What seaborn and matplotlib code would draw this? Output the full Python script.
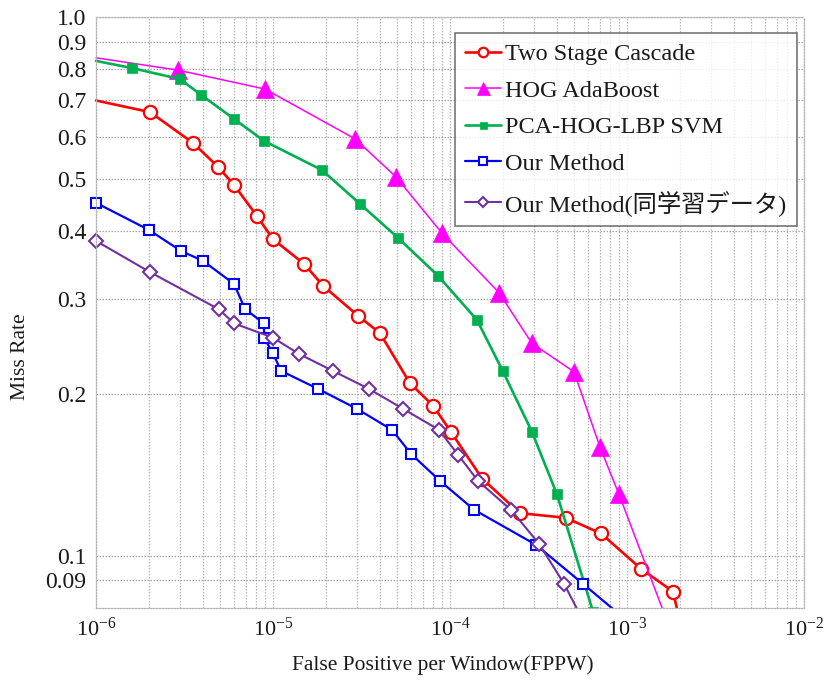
import matplotlib
matplotlib.use("Agg")
import matplotlib.pyplot as plt
import matplotlib.ticker as mticker
from matplotlib.transforms import Bbox, TransformedBbox
import numpy as np
import pandas as pd
import seaborn as sns

# ---- data: FPPW vs miss rate for each detector ----
cascade_fppw = [1.0e-6, 2.02e-6, 3.53e-6, 4.89e-6, 6.02e-6, 8.12e-6, 1.0e-5, 1.50e-5,
                1.92e-5, 3.02e-5, 4.02e-5, 5.94e-5, 8.02e-5, 1.01e-4, 1.52e-4, 2.48e-4,
                4.52e-4, 7.13e-4, 1.20e-3, 1.82e-3, 1.98e-3]
cascade_miss = [0.700, 0.666, 0.584, 0.527, 0.488, 0.427, 0.387, 0.348,
                0.317, 0.279, 0.259, 0.209, 0.190, 0.170, 0.139, 0.120,
                0.1176, 0.110, 0.0946, 0.0858, 0.076]

adaboost_fppw = [1.0e-6, 2.90e-6, 9.01e-6, 2.91e-5, 4.95e-5, 9.01e-5, 1.89e-4,
                 2.90e-4, 5.02e-4, 7.04e-4, 9.01e-4, 1.65e-3]
adaboost_miss = [0.840, 0.797, 0.735, 0.594, 0.505, 0.397, 0.308,
                 0.248, 0.2195, 0.159, 0.130, 0.077]

svm_fppw = [1.0e-6, 1.60e-6, 2.98e-6, 3.92e-6, 6.02e-6, 8.89e-6, 1.89e-5, 3.10e-5,
            5.09e-5, 8.55e-5, 1.42e-4, 1.99e-4, 2.90e-4, 4.02e-4, 6.43e-4]
svm_miss = [0.829, 0.804, 0.767, 0.717, 0.647, 0.589, 0.520, 0.450,
            0.389, 0.331, 0.274, 0.220, 0.170, 0.130, 0.0787]

ours_fppw = [1.0e-6, 1.99e-6, 3.02e-6, 4.02e-6, 6.02e-6, 6.95e-6, 8.89e-6, 8.89e-6,
             1.0e-5, 1.11e-5, 1.80e-5, 2.98e-5, 4.70e-5, 6.02e-5, 8.78e-5, 1.37e-4,
             3.06e-4, 5.64e-4, 9.0e-4]
ours_miss = [0.452, 0.4025, 0.368, 0.3527, 0.3196, 0.287, 0.270, 0.254,
             0.2375, 0.2204, 0.204, 0.1874, 0.1713, 0.1546, 0.1377, 0.1217,
             0.1048, 0.0887, 0.078]

ours_same_fppw = [1.0e-6, 2.01e-6, 4.95e-6, 6.02e-6, 1.0e-5, 1.40e-5, 2.18e-5, 3.49e-5,
                  5.43e-5, 8.66e-5, 1.11e-4, 1.44e-4, 2.21e-4, 3.18e-4, 4.41e-4, 5.4e-4]
ours_same_miss = [0.384, 0.3364, 0.2867, 0.270, 0.254, 0.237, 0.2204, 0.204,
                  0.1874, 0.1713, 0.154, 0.1377, 0.1217, 0.1053, 0.0887, 0.078]

series_names = ["Two Stage Cascade", "HOG AdaBoost", "PCA-HOG-LBP SVM",
                "Our Method", "Our Method(同学習データ)"]

y_ticks = [0.09, 0.1, 0.2, 0.3, 0.4, 0.5, 0.6, 0.7, 0.8, 0.9, 1.0]
y_tick_labels = ["0.09", "0.1", "0.2", "0.3", "0.4", "0.5", "0.6", "0.7", "0.8", "0.9", "1.0"]

# ---- styling ----
sns.set_style("white")
plt.rcParams["font.family"] = ["Liberation Serif", "Noto Sans CJK JP", "DejaVu Sans"]
plt.rcParams["mathtext.fontset"] = "stix"

fig = plt.figure(figsize=(8.3, 6.81), dpi=100)
ax = fig.add_axes([0.1157, 0.1072, 0.9687 - 0.1157, 0.975 - 0.1072])
ax.set_xscale("log")
ax.set_yscale("log")

styles = [
    dict(color="#FF0000", marker="o", ms=9.5, mfc="white", mec="#FF0000", mew=1.6, lw=1.9,
         markevery=slice(1, -1)),
    dict(color="#FF00FF", marker="^", ms=13, mfc="#FF00FF", mec="#FF00FF", mew=0.5, lw=1.1,
         markevery=slice(1, -1)),
    dict(color="#00B050", marker="s", ms=7, mfc="#00B050", mec="#00B050", mew=0.5, lw=1.9,
         markevery=slice(1, None)),
    dict(color="#0000FF", marker="s", ms=7.2, mfc="white", mec="#0000FF", mew=1.5, lw=1.6,
         markevery=slice(0, -1)),
    dict(color="#7030A0", marker="D", ms=7.2, mfc="white", mec="#7030A0", mew=1.5, lw=1.5,
         markevery=slice(0, -1)),
]
xs = [cascade_fppw, adaboost_fppw, svm_fppw, ours_fppw, ours_same_fppw]
ys = [cascade_miss, adaboost_miss, svm_miss, ours_miss, ours_same_miss]

# clip region: lets markers at the left edge show fully, cuts curves at the bottom
clip = TransformedBbox(Bbox([[-0.05, 0.0], [1.0, 1.05]]), ax.transAxes)

handles = []
for name, x, y, st in zip(series_names, xs, ys, styles):
    df = pd.DataFrame({"fppw": x, "miss": y})
    n_before = len(ax.lines)
    sns.lineplot(data=df, x="fppw", y="miss", ax=ax, sort=False, estimator=None,
                 label=name, legend=False, **st)
    line = ax.lines[n_before]
    line.set_clip_box(clip)
    handles.append(line)

ax.set_xlim(1e-6, 1e-2)
ax.set_ylim(0.08, 1.0)

ax.xaxis.set_major_locator(mticker.LogLocator(base=10, numticks=10))
ax.xaxis.set_minor_locator(mticker.LogLocator(base=10, subs=np.arange(2, 10), numticks=100))
ax.xaxis.set_major_formatter(mticker.LogFormatterMathtext())
ax.xaxis.set_minor_formatter(mticker.NullFormatter())
ax.yaxis.set_major_locator(mticker.FixedLocator(y_ticks))
ax.yaxis.set_major_formatter(mticker.FixedFormatter(y_tick_labels))
ax.yaxis.set_minor_locator(mticker.NullLocator())

ax.tick_params(axis="both", which="both", length=0, colors="#1a1a1a")
ax.tick_params(axis="y", pad=7, labelsize=17)
ax.tick_params(axis="x", pad=7, labelsize=16)

grid_kw = dict(color="#b8b8b8", linestyle=(0, (1.2, 1.2)), linewidth=0.9)
ax.grid(True, which="both", axis="x", **grid_kw)
ax.grid(True, which="major", axis="y", color="#a8a8a8", linestyle=(0, (1.2, 1.2)), linewidth=0.9)
ax.set_axisbelow(True)
for sp in ax.spines.values():
    sp.set_color("#b4b4b4")
    sp.set_linestyle((0, (1.2, 1.2)))
    sp.set_linewidth(0.9)

ax.set_xlabel("False Positive per Window(FPPW)", fontsize=15.5, color="#1a1a1a")
ax.set_ylabel("Miss Rate", fontsize=15.5, color="#1a1a1a")
ax.xaxis.set_label_coords(0.49, -0.08)
ax.yaxis.set_label_coords(-0.093, 0.426)

leg = ax.legend(handles=handles, labels=series_names, loc="upper right",
                bbox_to_anchor=(0.990, 0.973), fontsize=17.5, frameon=True, fancybox=False,
                handlelength=1.45, handletextpad=0.2, labelspacing=0.6, borderpad=0.42,
                markerscale=0.72, borderaxespad=0.0)
leg.get_frame().set_edgecolor("#555555")
leg.get_frame().set_linewidth(1.2)
for t in leg.get_texts():
    t.set_color("#1a1a1a")

fig.savefig("out.png", dpi=100)
